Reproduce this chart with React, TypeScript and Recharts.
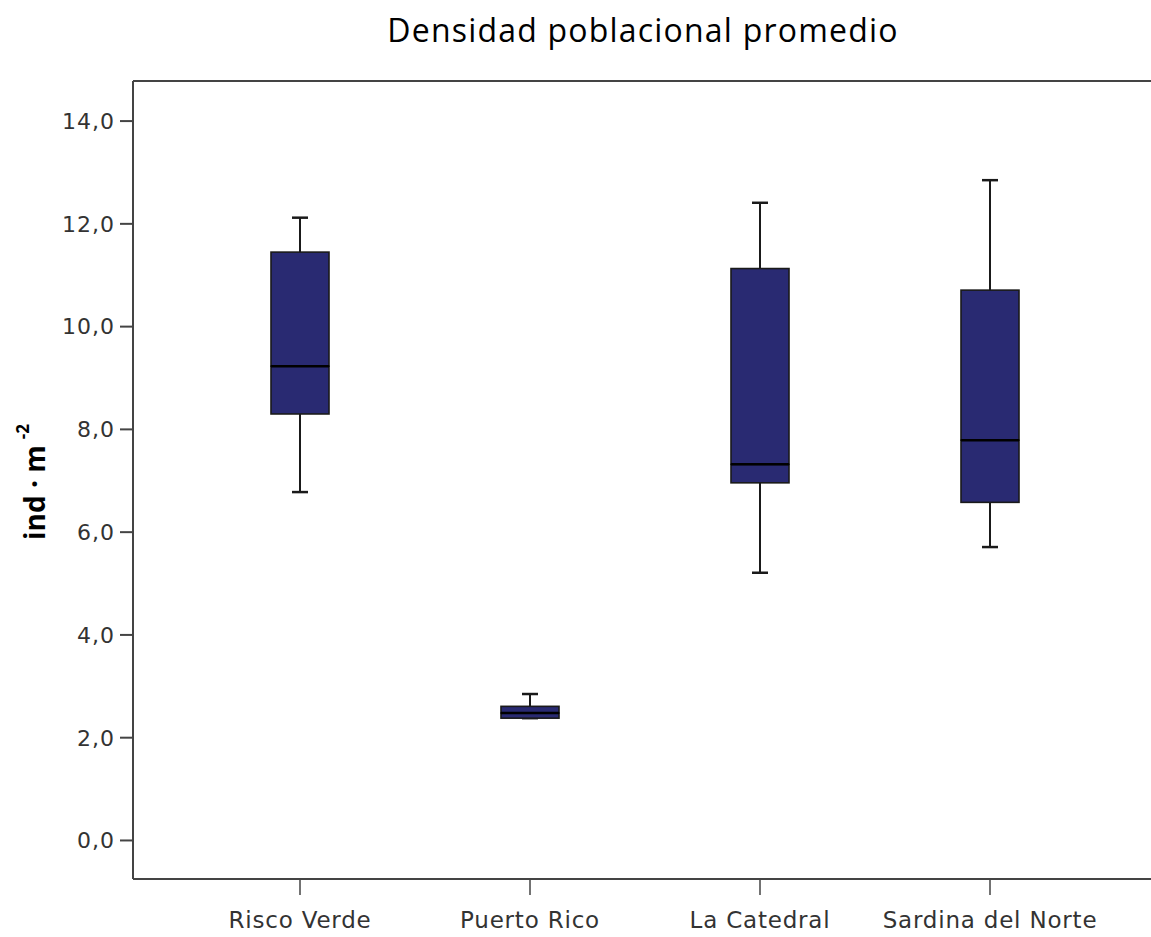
import React from 'react';
import { ComposedChart, Bar, XAxis, YAxis, ReferenceLine } from 'recharts';

// five-number summaries per site (ind · m^-2)
const sites = ['Risco Verde', 'Puerto Rico', 'La Catedral', 'Sardina del Norte'];
const mins = [6.78, 2.38, 5.21, 5.71];
const q1s = [8.3, 2.38, 6.96, 6.58];
const medians = [9.23, 2.48, 7.32, 7.79];
const q3s = [11.45, 2.61, 11.13, 10.71];
const maxs = [12.12, 2.85, 12.41, 12.85];

const yTicks = [0, 2, 4, 6, 8, 10, 12, 14];
const yMin = -0.75;
const yMax = 14.78;

const BOX_FILL = '#292a72';
const INK = '#1a1a1a';
const AXIS = '#444';

// stacked segments: invisible base, lower whisker, lower box half, upper box half, upper whisker
const data = sites.map((name, i) => ({
  name,
  base: mins[i],
  lowWhisker: q1s[i] - mins[i],
  lowBox: medians[i] - q1s[i],
  highBox: q3s[i] - medians[i],
  highWhisker: maxs[i] - q3s[i],
}));

const fmt = (v: number) => v.toFixed(1).replace('.', ',');

const Whisker = (capAtTop: boolean) => (props: any) => {
  const { x, y, width, height } = props;
  if (x == null || y == null) return null;
  const cx = x + width / 2;
  const capY = capAtTop ? y : y + height;
  return (
    <g>
      {height > 0 && <line x1={cx} x2={cx} y1={y} y2={y + height} stroke={INK} strokeWidth={2} />}
      <line x1={cx - 8} x2={cx + 8} y1={capY} y2={capY} stroke={INK} strokeWidth={2.5} />
    </g>
  );
};

const LowBox = (props: any) => {
  const { x, y, width, height } = props;
  if (x == null || y == null) return null;
  return <rect x={x} y={y} width={width} height={Math.max(height, 0)} fill={BOX_FILL} stroke={INK} strokeWidth={1.6} />;
};

// upper half of the box, with the median drawn along its lower edge
const HighBox = (props: any) => {
  const { x, y, width, height } = props;
  if (x == null || y == null) return null;
  const h = Math.max(height, 0);
  return (
    <g>
      <rect x={x} y={y} width={width} height={h} fill={BOX_FILL} stroke={INK} strokeWidth={1.6} />
      <line x1={x} x2={x + width} y1={y + h} y2={y + h} stroke="#000" strokeWidth={2.5} />
    </g>
  );
};

const YLabel = () => {
  const cx = 34;
  const cy = 482;
  return (
    <text
      x={cx}
      y={cy}
      transform={`rotate(-90, ${cx}, ${cy})`}
      textAnchor="middle"
      dominantBaseline="central"
      fontFamily="'Open Sans', 'Noto Sans', sans-serif"
      fontWeight={700}
      fontSize={28}
      fill="#000"
    >
      ind · m
      <tspan dx={6} dy={-12} fontSize={17}>-2</tspan>
    </text>
  );
};

const tickFont = "'DejaVu Sans', sans-serif";

export default function App() {
  return (
    <div style={{ position: 'relative', width: 1151, height: 937, background: '#fff', overflow: 'hidden' }}>
      <style>{'body{margin:0}'}</style>
      <div
        style={{
          position: 'absolute',
          top: 8,
          left: 0,
          width: 1286,
          textAlign: 'center',
          fontFamily: "'Open Sans', sans-serif",
          fontSize: 32,
          letterSpacing: 1.2,
          color: '#000',
        }}
      >
        Densidad poblacional promedio
      </div>
      {/* plot frame runs past the right edge, so it is clipped by the wrapper */}
      <ComposedChart
        width={1170}
        height={937}
        data={data}
        margin={{ top: 81, right: 0, bottom: 0, left: 0 }}
      >
        <XAxis
          dataKey="name"
          type="category"
          height={58}
          padding={{ left: 52, right: 65 }}
          axisLine={{ stroke: AXIS, strokeWidth: 2 }}
          tickLine={{ stroke: AXIS, strokeWidth: 1.5 }}
          tickSize={16}
          tick={{ fill: '#333', fontSize: 23, fontFamily: tickFont, letterSpacing: 0.8, dy: 15 }}
        />
        <YAxis
          type="number"
          domain={[yMin, yMax]}
          ticks={yTicks}
          allowDataOverflow
          width={133}
          tickFormatter={fmt}
          axisLine={{ stroke: AXIS, strokeWidth: 2 }}
          tickLine={{ stroke: AXIS, strokeWidth: 2 }}
          tickSize={13}
          tickMargin={5}
          tick={{ fill: '#333', fontSize: 22, fontFamily: tickFont, letterSpacing: 1 }}
          label={<YLabel />}
        />
        <ReferenceLine y={yMax} stroke={AXIS} strokeWidth={2} />
        <Bar dataKey="base" stackId="box" fill="transparent" barSize={58} isAnimationActive={false} />
        <Bar dataKey="lowWhisker" stackId="box" barSize={58} shape={Whisker(false)} isAnimationActive={false} />
        <Bar dataKey="lowBox" stackId="box" barSize={58} shape={LowBox} isAnimationActive={false} />
        <Bar dataKey="highBox" stackId="box" barSize={58} shape={HighBox} isAnimationActive={false} />
        <Bar dataKey="highWhisker" stackId="box" barSize={58} shape={Whisker(true)} isAnimationActive={false} />
      </ComposedChart>
    </div>
  );
}
